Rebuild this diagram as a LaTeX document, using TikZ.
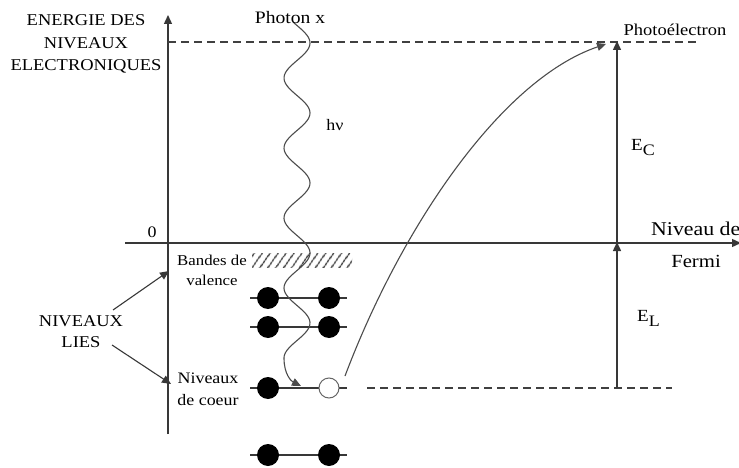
\documentclass[tikz,border=0pt]{standalone}
\usepackage{fontspec}
\setmainfont{Liberation Serif}[FakeStretch=1.12]
\usetikzlibrary{arrows.meta,patterns.meta}
\begin{document}
\begin{tikzpicture}[x=1pt,y=-1pt,
  ln/.style={draw=black!78, line width=1.4pt},
  thin ln/.style={draw=black!70, line width=1.1pt},
  tip/.style={-{Triangle[length=9pt,width=8pt]}},
  dsh/.style={draw=black!75,line width=1.3pt,dash pattern=on 8pt off 5pt},
  lbl/.style={inner sep=0pt,align=center,text=black},
  el/.style={circle,fill=black,minimum size=22pt,inner sep=0pt},
  hole/.style={circle,draw=black!60,fill=white,line width=1pt,minimum size=20pt,inner sep=0pt}]
\useasboundingbox[fill=white] (0,0) rectangle (739,468);

% axes
\coordinate (ybot) at (168,434);
\coordinate (ytop) at (168,15);
\draw[ln,tip] (ybot) -- (ytop);
\coordinate (fl) at (125,243);
\coordinate (fr) at (741,243);
\draw[ln,tip] (fl) -- (fr);

% dashed levels
\coordinate (d1a) at (168,42);
\coordinate (d1b) at (700,42);
\draw[dsh] (d1a) -- (d1b);
\coordinate (d2a) at (367,388);
\coordinate (d2b) at (672,388);
\draw[dsh] (d2a) -- (d2b);

% E_C and E_L arrows
\coordinate (ecb) at (617,243);
\coordinate (ect) at (617,41);
\draw[ln,tip] (ecb) -- (ect);
\coordinate (elb) at (617,388);
\coordinate (elt) at (617,242);
\draw[ln,tip] (elb) -- (elt);

% valence band hatch
\path[pattern={Lines[angle=55,distance=6.5pt,line width=1.5pt]},pattern color=black!75] (252,253) rectangle (352,267);

% levels
\foreach \y/\n in {298/a,327/b,455/d}{
  \coordinate (lw\n) at (250,\y);
  \coordinate (le\n) at (347,\y);
  \draw[ln] (lw\n) -- (le\n);
  \node[el] (e1\n) at (268,\y) {};
  \node[el] (e2\n) at (329,\y) {};
}
\coordinate (lwc) at (250,388);
\coordinate (lec) at (347,388);
\draw[ln] (lwc) -- (lec);
\node[el] (e1c) at (268,388) {};
\node[hole] (hole) at (329,388) {};

% photon wave
\draw[thin ln] plot[domain=22:358,samples=160,smooth] ({297+13*sin((\x-43)*5.142857+90)},\x);
\coordinate (wend) at (284,358);
\coordinate (wtip) at (301,386);
\draw[thin ln,tip] (wend) .. controls (284,374) and (291,381) .. (wtip);

% photoelectron trajectory
\coordinate (pstart) at (345,376);
\coordinate (pend) at (606,44);
\draw[thin ln,tip] (pstart) .. controls (400,230) and (500,80) .. (pend);

% texts
\node[lbl,font=\fontsize{16.5}{22.5}\selectfont] (energ) at (86,44) {ENERGIE DES\\NIVEAUX\\ELECTRONIQUES};
\node[lbl,font=\fontsize{17.5}{20}\selectfont] (photon) at (290,18) {Photon x};
\node[lbl,font=\fontsize{16}{20}\selectfont] (hnu) at (335,125) {hν};
\node[lbl,font=\fontsize{16.5}{20}\selectfont] (pe) at (675,30) {Photoélectron};
\node[lbl,font=\fontsize{17}{20}\selectfont,anchor=west] (ec) at (631,148) {E\raisebox{-5pt}{\fontsize{16}{16}\selectfont C}};
\node[lbl,font=\fontsize{17}{20}\selectfont,anchor=west] (el) at (637,318) {E\raisebox{-5pt}{\fontsize{16}{16}\selectfont L}};
\node[lbl,font=\fontsize{16}{20}\selectfont] (zero) at (152,232) {0};
\node[lbl,font=\fontsize{19.5}{20}\selectfont,anchor=west] (niv) at (651,229) {Niveau de};
\node[lbl,font=\fontsize{18.5}{20}\selectfont] (fermi) at (696,261) {Fermi};
\node[lbl,font=\fontsize{15}{20}\selectfont] (bandes) at (212,270) {Bandes de\\valence};
\node[lbl,font=\fontsize{16}{22}\selectfont] (coeur) at (208,389) {Niveaux\\de coeur};
\node[lbl,font=\fontsize{16.5}{21}\selectfont] (lies) at (81,332) {NIVEAUX\\LIES};

% arrows from NIVEAUX LIES
\coordinate (la1) at (113,310);
\coordinate (lt1) at (169,271);
\draw[ln,line width=1.1pt,tip] (la1) -- (lt1);
\coordinate (la2) at (112,345);
\coordinate (lt2) at (171,384);
\draw[ln,line width=1.1pt,tip] (la2) -- (lt2);
\end{tikzpicture}
\end{document}
